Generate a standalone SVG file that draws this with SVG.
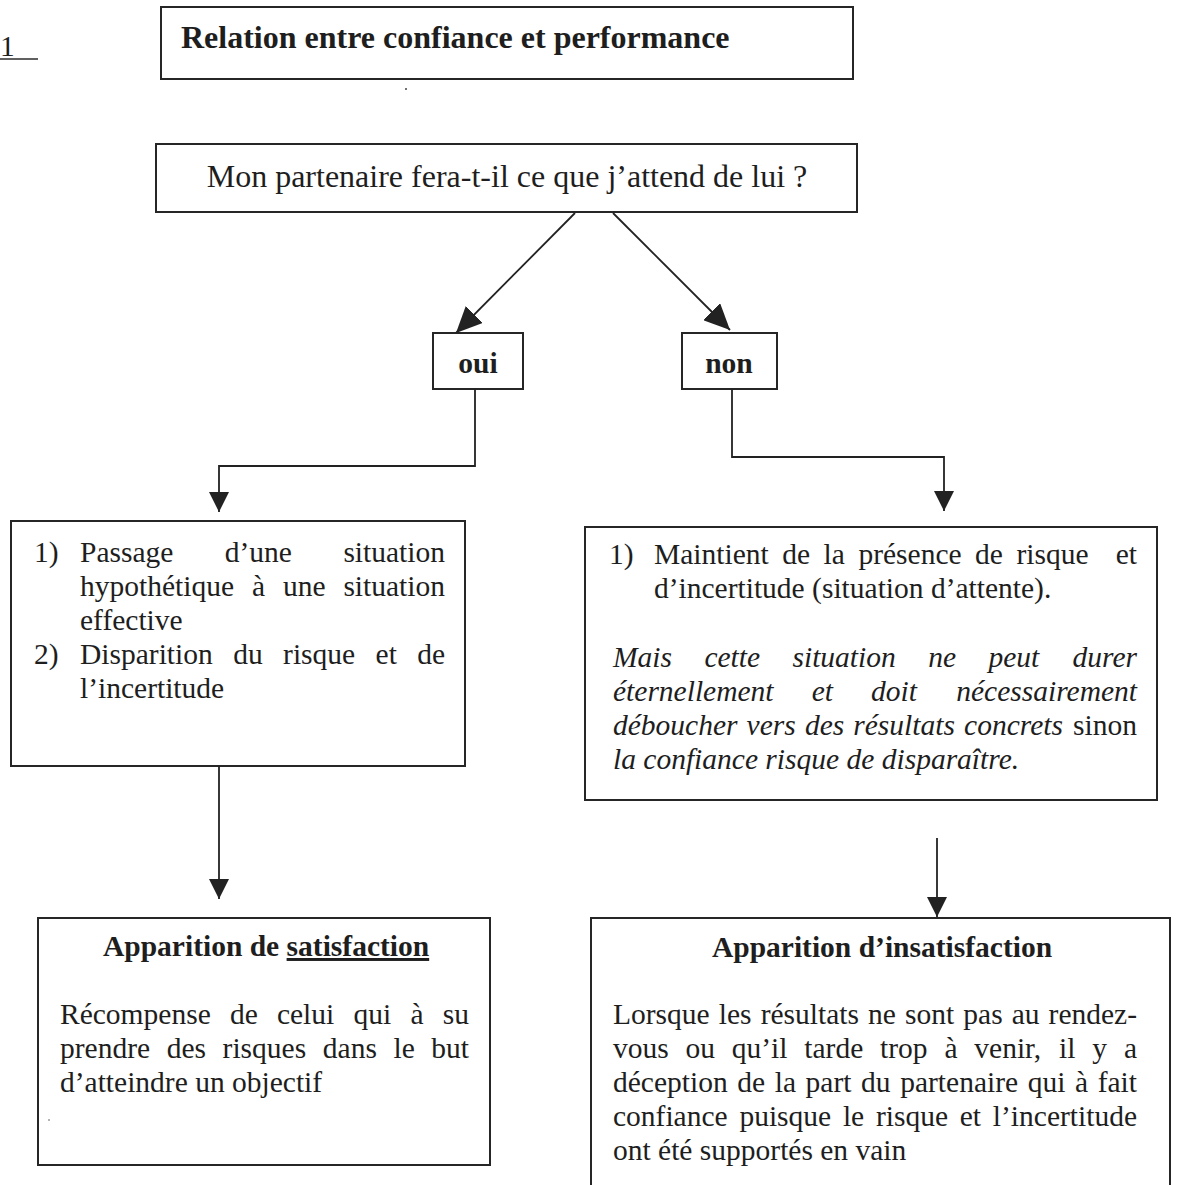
<svg xmlns="http://www.w3.org/2000/svg" width="1177" height="1185" viewBox="0 0 1177 1185">
  <style>
    .box { fill: none; stroke: #262626; stroke-width: 2; }
    .wire { fill: none; stroke: #222; stroke-width: 1.8; }
    text { font-family: "Liberation Serif", "Times New Roman", serif; fill: #1e1e1e; }
    .body { font-size: 29.5px; }
    .bold { font-weight: bold; }
    .it { font-style: italic; }
    .end { text-anchor: end; }
    .mid { text-anchor: middle; }
  </style>
  <defs>
    <marker id="head" markerUnits="userSpaceOnUse" markerWidth="20" markerHeight="20" refX="20" refY="10" orient="auto">
      <path d="M0,0 L20,10 L0,20 z" fill="#222"/>
    </marker>
    <marker id="head-lg" markerUnits="userSpaceOnUse" markerWidth="26" markerHeight="24" refX="26" refY="12" orient="auto">
      <path d="M0,0 L26,12 L0,24 z" fill="#222"/>
    </marker>
  </defs>

  <rect width="1177" height="1185" fill="#fff"/>

  <!-- page number at the left margin -->
  <g id="page-mark">
    <text class="body" x="0" y="56">1</text>
    <line x1="0" y1="59" x2="38" y2="59" stroke="#2b2b2b" stroke-width="1.5"/>
  </g>

  <!-- title -->
  <g id="title">
    <rect class="box" x="161" y="7" width="692" height="72"/>
    <text class="bold" x="181" y="48" font-size="32px">Relation entre confiance et performance</text>
  </g>
  <circle cx="406" cy="89" r="1" fill="#444"/>

  <!-- question -->
  <g id="question">
    <rect class="box" x="156" y="144" width="701" height="68"/>
    <text class="mid" x="507" y="187" font-size="32px">Mon partenaire fera-t-il ce que j’attend de lui ?</text>
  </g>

  <!-- answers -->
  <g id="oui">
    <rect class="box" x="433" y="333" width="90" height="56"/>
    <text class="body bold mid" x="478" y="373">oui</text>
  </g>
  <g id="non">
    <rect class="box" x="682" y="333" width="95" height="56"/>
    <text class="body bold mid" x="729" y="373">non</text>
  </g>

  <!-- consequence of "oui" -->
  <g id="effective">
    <rect class="box" x="11" y="521" width="454" height="245"/>
    <g class="body">
      <text x="34" y="562">1)</text>
      <text x="80" y="562">Passage</text>
      <text x="224.8" y="562">d’une</text>
      <text class="end" x="445" y="562">situation</text>
      <text x="80" y="596">hypothétique</text>
      <text x="251.9" y="596">à</text>
      <text x="282.9" y="596">une</text>
      <text class="end" x="445" y="596">situation</text>
      <text x="80" y="630">effective</text>
      <text x="34" y="664">2)</text>
      <text x="80" y="664">Disparition</text>
      <text x="233.2" y="664">du</text>
      <text x="283.1" y="664">risque</text>
      <text x="375.6" y="664">et</text>
      <text class="end" x="445" y="664">de</text>
      <text x="80" y="698">l’incertitude</text>
    </g>
  </g>

  <!-- consequence of "non" -->
  <g id="attente">
    <rect class="box" x="585" y="527" width="572" height="273"/>
    <g class="body">
      <text x="609" y="564">1)</text>
      <text x="654" y="564">Maintient</text>
      <text x="782.2" y="564">de</text>
      <text x="823.5" y="564">la</text>
      <text x="858.4" y="564">présence</text>
      <text x="975.1" y="564">de</text>
      <text x="1016.4" y="564">risque</text>
      <text class="end" x="1137" y="564">et</text>
      <text x="654" y="598">d’incertitude (situation d’attente).</text>
    </g>
    <g class="body it">
      <text x="613" y="667">Mais</text>
      <text x="704.4" y="667">cette</text>
      <text x="792.5" y="667">situation</text>
      <text x="928.2" y="667">ne</text>
      <text x="988.4" y="667">peut</text>
      <text class="end" x="1137" y="667">durer</text>
      <text x="613" y="701">éternellement</text>
      <text x="811.7" y="701">et</text>
      <text x="871.1" y="701">doit</text>
      <text class="end" x="1137" y="701">nécessairement</text>
      <text x="613" y="735">déboucher</text>
      <text x="746.6" y="735">vers</text>
      <text x="804.9" y="735">des</text>
      <text x="853.3" y="735">résultats</text>
      <text x="964.1" y="735">concrets</text>
      <text class="end" x="1137" y="735" font-style="normal">sinon</text>
      <text x="613" y="769">la confiance risque de disparaître.</text>
    </g>
  </g>

  <!-- satisfaction -->
  <g id="satisfaction">
    <rect class="box" x="38" y="918" width="452" height="247"/>
    <text class="body bold" x="103" y="956">Apparition de <tspan text-decoration="underline">satisfaction</tspan></text>
    <g class="body">
      <text x="60" y="1024">Récompense</text>
      <text x="229.9" y="1024">de</text>
      <text x="276.9" y="1024">celui</text>
      <text x="353.5" y="1024">qui</text>
      <text x="410.4" y="1024">à</text>
      <text class="end" x="469" y="1024">su</text>
      <text x="60" y="1058">prendre</text>
      <text x="166.7" y="1058">des</text>
      <text x="222.6" y="1058">risques</text>
      <text x="322.8" y="1058">dans</text>
      <text x="393.5" y="1058">le</text>
      <text class="end" x="469" y="1058">but</text>
      <text x="60" y="1092">d’atteindre un objectif</text>
    </g>
    <circle cx="49" cy="1120" r="0.8" fill="#555"/>
  </g>

  <!-- insatisfaction (frame runs off the bottom edge) -->
  <g id="insatisfaction">
    <path class="box" d="M591,1186 V918 H1170 V1186"/>
    <text class="body bold mid" x="882" y="957">Apparition d’insatisfaction</text>
    <g class="body">
      <text x="613" y="1024">Lorsque</text>
      <text x="718.8" y="1024">les</text>
      <text x="760.7" y="1024">résultats</text>
      <text x="868.1" y="1024">ne</text>
      <text x="905" y="1024">sont</text>
      <text x="963.3" y="1024">pas</text>
      <text x="1011.7" y="1024">au</text>
      <text class="end" x="1137" y="1024">rendez-</text>
      <text x="613" y="1058">vous</text>
      <text x="685.5" y="1058">ou</text>
      <text x="731.8" y="1058">qu’il</text>
      <text x="804.3" y="1058">tarde</text>
      <text x="880.1" y="1058">trop</text>
      <text x="944.4" y="1058">à</text>
      <text x="974.3" y="1058">venir,</text>
      <text x="1059.1" y="1058">il</text>
      <text x="1092.3" y="1058">y</text>
      <text class="end" x="1137" y="1058">a</text>
      <text x="613" y="1092">déception</text>
      <text x="737.3" y="1092">de</text>
      <text x="774.7" y="1092">la</text>
      <text x="805.6" y="1092">part</text>
      <text x="861.1" y="1092">du</text>
      <text x="900.2" y="1092">partenaire</text>
      <text x="1027.7" y="1092">qui</text>
      <text x="1075" y="1092">à</text>
      <text class="end" x="1137" y="1092">fait</text>
      <text x="613" y="1126">confiance</text>
      <text x="739.4" y="1126">puisque</text>
      <text x="842.9" y="1126">le</text>
      <text x="875.9" y="1126">risque</text>
      <text x="959.7" y="1126">et</text>
      <text class="end" x="1137" y="1126">l’incertitude</text>
      <text x="613" y="1160">ont été supportés en vain</text>
    </g>
  </g>

  <!-- connectors -->
  <g id="connectors">
    <path class="wire" d="M575,213 L456,333" marker-end="url(#head-lg)"/>
    <path class="wire" d="M613,213 L730,330" marker-end="url(#head-lg)"/>
    <path class="wire" d="M475,389 V466 H219 V512" marker-end="url(#head)"/>
    <path class="wire" d="M732,389 V457 H944 V511" marker-end="url(#head)"/>
    <path class="wire" d="M219,766 V899" marker-end="url(#head)"/>
    <path class="wire" d="M937,838 V917" marker-end="url(#head)"/>
  </g>
</svg>
